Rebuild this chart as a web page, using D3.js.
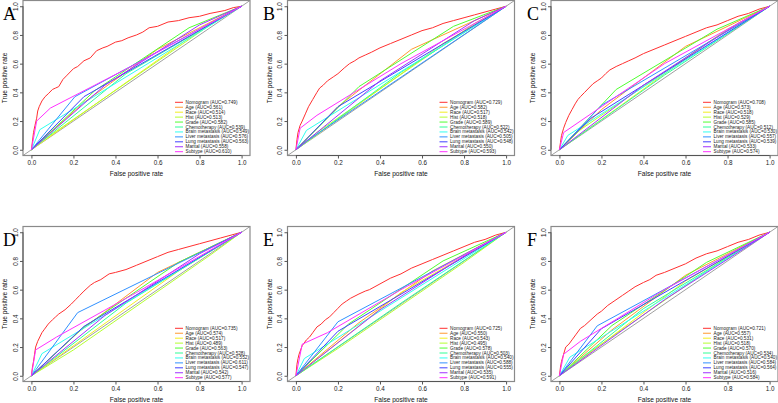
<!DOCTYPE html>
<html><head><meta charset="utf-8">
<script src="https://cdn.jsdelivr.net/npm/d3@7"></script>
<style>html,body{margin:0;padding:0;background:#fff;}svg{display:block;}</style>
</head><body>
<svg id="chart" width="778" height="403"></svg>
<script>
const panelLabels = ["A","B","C","D","E","F"];
const seriesNames = ["Nomogram","Age","Race","Hist","Grade","Chemotherapy","Brain metastasis","Liver metastasis","Lung metastasis","Marital","Subtype"];
const seriesColors = ["#FF3030","#FF9A30","#F2EE20","#B4FF30","#50FF30","#30FF96","#30FFF0","#3090FF","#4040FF","#A030FF","#FF30FF"];
const axisTicks = [0,0.2,0.4,0.6,0.8,1.0];
const tickLabels = ["0.0","0.2","0.4","0.6","0.8","1.0"];

const aucA = ["0.749","0.561","0.514","0.513","0.582","0.539","0.549","0.576","0.563","0.558","0.610"];
const aucB = ["0.729","0.582","0.517","0.518","0.589","0.522","0.542","0.505","0.548","0.550","0.593"];
const aucC = ["0.708","0.573","0.518","0.529","0.585","0.512","0.530","0.557","0.539","0.533","0.574"];
const aucD = ["0.735","0.574","0.517","0.489","0.563","0.528","0.552","0.611","0.547","0.542","0.577"];
const aucE = ["0.725","0.550","0.543","0.495","0.578","0.503","0.540","0.588","0.555","0.535","0.591"];
const aucF = ["0.721","0.557","0.531","0.518","0.570","0.534","0.540","0.584","0.564","0.516","0.584"];

// ROC curves [fpr, tpr] per panel, in legend order
const rocA = [
  [[0,0],[0.005,0.06],[0.01,0.12],[0.017,0.17],[0.025,0.22],[0.03,0.27],[0.037,0.3],[0.05,0.34],[0.065,0.37],[0.08,0.39],[0.1,0.42],[0.115,0.43],[0.13,0.44],[0.15,0.49],[0.17,0.52],[0.2,0.565],[0.22,0.58],[0.25,0.62],[0.28,0.64],[0.31,0.69],[0.34,0.71],[0.36,0.72],[0.4,0.75],[0.43,0.76],[0.46,0.78],[0.5,0.8],[0.53,0.82],[0.56,0.85],[0.6,0.86],[0.65,0.89],[0.7,0.9],[0.75,0.92],[0.8,0.93],[0.85,0.95],[0.92,0.97],[0.96,0.99],[1,1]],
  [[0,0],[0.25,0.33],[0.6,0.7],[1,1]],
  [[0,0],[0.75,0.78],[1,1]],
  [[0,0],[0.05,0.06],[0.9,0.92],[1,1]],
  [[0,0],[0.3,0.41],[0.75,0.85],[1,1]],
  [[0,0],[0.45,0.53],[1,1]],
  [[0,0],[0.04,0.14],[1,1]],
  [[0,0],[0.207,0.37],[1,1]],
  [[0,0],[0.25,0.37],[1,1]],
  [[0,0],[0.35,0.45],[0.8,0.87],[1,1]],
  [[0,0],[0.025,0.2],[0.09,0.29],[0.5,0.6],[1,1]]
];
const rocB = [
  [[0,0],[0.005,0.07],[0.01,0.12],[0.02,0.17],[0.03,0.2],[0.045,0.25],[0.06,0.3],[0.08,0.35],[0.1,0.4],[0.113,0.43],[0.13,0.45],[0.15,0.48],[0.18,0.51],[0.2,0.53],[0.23,0.57],[0.255,0.6],[0.28,0.62],[0.3,0.64],[0.33,0.66],[0.36,0.68],[0.4,0.71],[0.45,0.74],[0.5,0.77],[0.55,0.8],[0.6,0.83],[0.65,0.85],[0.7,0.88],[0.75,0.9],[0.8,0.92],[0.85,0.94],[0.9,0.96],[0.95,0.98],[1,1]],
  [[0,0],[0.2,0.3],[0.55,0.7],[1,1]],
  [[0,0],[0.7,0.74],[1,1]],
  [[0,0],[0.1,0.12],[0.85,0.88],[1,1]],
  [[0,0],[0.3,0.44],[0.75,0.86],[1,1]],
  [[0,0],[0.5,0.54],[1,1]],
  [[0,0],[0.05,0.135],[1,1]],
  [[0,0],[0.05,0.06],[1,1]],
  [[0,0],[0.2,0.3],[1,1]],
  [[0,0],[0.4,0.48],[0.85,0.9],[1,1]],
  [[0,0],[0.02,0.15],[0.1,0.24],[0.5,0.6],[1,1]]
];
const rocC = [
  [[0,0],[0.005,0.05],[0.01,0.1],[0.02,0.15],[0.03,0.19],[0.045,0.24],[0.06,0.28],[0.075,0.32],[0.088,0.35],[0.1,0.37],[0.12,0.4],[0.14,0.43],[0.16,0.46],[0.18,0.48],[0.2,0.5],[0.22,0.53],[0.24,0.556],[0.27,0.58],[0.3,0.6],[0.33,0.62],[0.36,0.64],[0.4,0.67],[0.45,0.7],[0.5,0.73],[0.55,0.76],[0.6,0.79],[0.65,0.82],[0.7,0.85],[0.75,0.87],[0.8,0.9],[0.85,0.93],[0.9,0.95],[0.95,0.98],[1,1]],
  [[0,0],[0.2,0.28],[0.6,0.72],[1,1]],
  [[0,0],[0.72,0.76],[1,1]],
  [[0,0],[0.1,0.14],[0.8,0.84],[1,1]],
  [[0,0],[0.27,0.42],[0.75,0.84],[1,1]],
  [[0,0],[0.5,0.52],[1,1]],
  [[0,0],[0.04,0.1],[1,1]],
  [[0,0],[0.2,0.31],[1,1]],
  [[0,0],[0.15,0.22],[1,1]],
  [[0,0],[0.4,0.45],[0.85,0.88],[1,1]],
  [[0,0],[0.02,0.12],[0.1,0.2],[0.5,0.6],[1,1]]
];
const rocD = [
  [[0,0],[0.005,0.06],[0.01,0.1],[0.015,0.15],[0.02,0.2],[0.03,0.24],[0.04,0.27],[0.05,0.3],[0.06,0.32],[0.08,0.36],[0.1,0.39],[0.115,0.41],[0.13,0.43],[0.16,0.46],[0.19,0.5],[0.21,0.53],[0.23,0.56],[0.25,0.59],[0.28,0.63],[0.3,0.65],[0.33,0.67],[0.35,0.69],[0.37,0.71],[0.4,0.72],[0.45,0.74],[0.5,0.77],[0.55,0.8],[0.6,0.83],[0.65,0.86],[0.7,0.88],[0.75,0.9],[0.8,0.92],[0.85,0.94],[0.9,0.96],[0.95,0.98],[1,1]],
  [[0,0],[0.22,0.3],[0.6,0.72],[1,1]],
  [[0,0],[0.7,0.73],[1,1]],
  [[0,0],[0.2,0.18],[0.85,0.84],[1,1]],
  [[0,0],[0.25,0.34],[0.7,0.79],[1,1]],
  [[0,0],[0.45,0.506],[1,1]],
  [[0,0],[0.05,0.154],[1,1]],
  [[0,0],[0.22,0.44],[1,1]],
  [[0,0],[0.25,0.344],[1,1]],
  [[0,0],[0.35,0.42],[0.8,0.85],[1,1]],
  [[0,0],[0.02,0.18],[0.12,0.27],[0.5,0.58],[1,1]]
];
const rocE = [
  [[0,0],[0.005,0.08],[0.01,0.12],[0.015,0.15],[0.03,0.21],[0.05,0.25],[0.065,0.27],[0.08,0.3],[0.1,0.34],[0.12,0.36],[0.14,0.39],[0.16,0.41],[0.18,0.44],[0.2,0.47],[0.22,0.5],[0.24,0.52],[0.26,0.54],[0.3,0.57],[0.33,0.59],[0.35,0.6],[0.4,0.64],[0.45,0.68],[0.5,0.71],[0.55,0.75],[0.6,0.78],[0.65,0.81],[0.7,0.84],[0.75,0.87],[0.8,0.9],[0.85,0.93],[0.9,0.95],[0.95,0.98],[1,1]],
  [[0,0],[0.3,0.37],[0.65,0.73],[1,1]],
  [[0,0],[0.5,0.58],[1,1]],
  [[0,0],[0.2,0.19],[0.8,0.79],[1,1]],
  [[0,0],[0.25,0.36],[0.7,0.8],[1,1]],
  [[0,0],[0.5,0.506],[1,1]],
  [[0,0],[0.04,0.12],[1,1]],
  [[0,0],[0.2,0.376],[1,1]],
  [[0,0],[0.2,0.31],[1,1]],
  [[0,0],[0.4,0.46],[0.85,0.88],[1,1]],
  [[0,0],[0.03,0.22],[0.15,0.3],[0.5,0.6],[1,1]]
];
const rocF = [
  [[0,0],[0.005,0.06],[0.01,0.1],[0.02,0.15],[0.03,0.2],[0.045,0.22],[0.06,0.25],[0.08,0.29],[0.1,0.33],[0.12,0.35],[0.15,0.39],[0.18,0.43],[0.2,0.45],[0.23,0.49],[0.26,0.52],[0.3,0.56],[0.33,0.59],[0.36,0.62],[0.4,0.65],[0.43,0.67],[0.46,0.7],[0.5,0.72],[0.55,0.75],[0.6,0.78],[0.65,0.82],[0.7,0.85],[0.75,0.87],[0.8,0.9],[0.85,0.93],[0.9,0.95],[0.95,0.98],[1,1]],
  [[0,0],[0.25,0.32],[0.6,0.7],[1,1]],
  [[0,0],[0.6,0.66],[1,1]],
  [[0,0],[0.1,0.12],[0.85,0.88],[1,1]],
  [[0,0],[0.25,0.35],[0.7,0.79],[1,1]],
  [[0,0],[0.4,0.468],[1,1]],
  [[0,0],[0.05,0.13],[1,1]],
  [[0,0],[0.18,0.348],[1,1]],
  [[0,0],[0.2,0.328],[1,1]],
  [[0,0],[0.5,0.53],[1,1]],
  [[0,0],[0.02,0.15],[0.1,0.24],[0.5,0.6],[1,1]]
];

const panels = [
  {label:"A", roc:rocA, auc:aucA},
  {label:"B", roc:rocB, auc:aucB},
  {label:"C", roc:rocC, auc:aucC},
  {label:"D", roc:rocD, auc:aucD},
  {label:"E", roc:rocE, auc:aucE},
  {label:"F", roc:rocF, auc:aucF}
];

const svg = d3.select("#chart");
const colOff = [0, 264.5, 528];
const rowOff = [0, 226];
const letterX = [3, 263, 527];
const boxL = 23, boxW = 227, boxT = 0.5, boxH = 155;
const sansFont = "'Liberation Sans', Arial, sans-serif";

panels.forEach((p, i) => {
  const col = i % 3, row = Math.floor(i / 3);
  const ox = colOff[col], oy = rowOff[row];
  const g = svg.append("g");
  const x = d3.scaleLinear().domain([-0.04, 1.04]).range([ox + boxL, ox + boxL + boxW]);
  const y = d3.scaleLinear().domain([-0.04, 1.04]).range([oy + boxT + boxH, oy + boxT]);

  // diagonal reference
  g.append("line")
    .attr("x1", x(-0.04)).attr("y1", y(-0.04))
    .attr("x2", x(1.04)).attr("y2", y(1.04))
    .attr("stroke", "#a0a0a0").attr("stroke-width", 1);

  const line = d3.line().x(d => x(d[0])).y(d => y(d[1]));
  p.roc.forEach((pts, k) => {
    g.append("path").attr("d", line(pts))
      .attr("fill", "none").attr("stroke", seriesColors[k])
      .attr("stroke-width", 1).attr("stroke-linejoin", "round");
  });

  // box
  g.append("rect")
    .attr("x", x(-0.04)).attr("y", y(1.04))
    .attr("width", x(1.04) - x(-0.04)).attr("height", y(-0.04) - y(1.04))
    .attr("fill", "none").attr("stroke", "#8a8a8a").attr("stroke-width", 1.2);

  // axes
  const xAxis = d3.axisBottom(x).tickValues(axisTicks).tickFormat((d, j) => tickLabels[j]).tickSize(3).tickPadding(2);
  const gx = g.append("g").attr("transform", `translate(0,${y(-0.04)})`).call(xAxis);
  gx.select(".domain").attr("d", `M${x(0)},0H${x(1)}`).attr("stroke", "#555");
  gx.selectAll(".tick line").attr("stroke", "#555");
  gx.selectAll("text").attr("font-family", sansFont).attr("font-size", 6.3).attr("fill", "#222");

  const yAxis = d3.axisLeft(y).tickValues(axisTicks).tickFormat((d, j) => tickLabels[j]).tickSize(3).tickPadding(2);
  const gy = g.append("g").attr("transform", `translate(${x(-0.04)},0)`).call(yAxis);
  gy.select(".domain").attr("d", `M0,${y(0)}V${y(1)}`).attr("stroke", "#555");
  gy.selectAll(".tick line").attr("stroke", "#555");
  gy.selectAll("text")
    .attr("font-family", sansFont).attr("font-size", 6.3).attr("fill", "#222")
    .attr("text-anchor", "middle").attr("dy", null).attr("x", null)
    .attr("transform", "translate(-8,0) rotate(-90)")
    .attr("dominant-baseline", "central");

  // axis titles
  g.append("text").attr("x", (x(-0.04) + x(1.04)) / 2).attr("y", oy + 176)
    .attr("text-anchor", "middle").attr("font-family", sansFont).attr("font-size", 6.6).attr("fill", "#111")
    .text("False positive rate");
  g.append("text")
    .attr("transform", `translate(${ox + 7},${(y(-0.04) + y(1.04)) / 2}) rotate(-90)`)
    .attr("text-anchor", "middle").attr("font-family", sansFont).attr("font-size", 6.6).attr("fill", "#111")
    .text("True positive rate");

  // legend
  const lg = g.append("g");
  seriesNames.forEach((name, k) => {
    const ly = oy + 102.3 + k * 4.94;
    lg.append("line").attr("x1", ox + 175).attr("x2", ox + 183).attr("y1", ly).attr("y2", ly)
      .attr("stroke", seriesColors[k]).attr("stroke-width", 1);
    lg.append("text").attr("x", ox + 185.5).attr("y", ly).attr("dominant-baseline", "central")
      .attr("font-family", sansFont).attr("font-size", 4.7).attr("fill", "#222")
      .text(`${name} (AUC=${p.auc[k]})`);
  });

  // panel letter
  g.append("text").attr("x", letterX[col]).attr("y", oy + 20)
    .attr("font-family", "'Liberation Serif', 'Times New Roman', serif").attr("font-size", 18).attr("fill", "#000")
    .text(p.label);
});
</script>
</body></html>
